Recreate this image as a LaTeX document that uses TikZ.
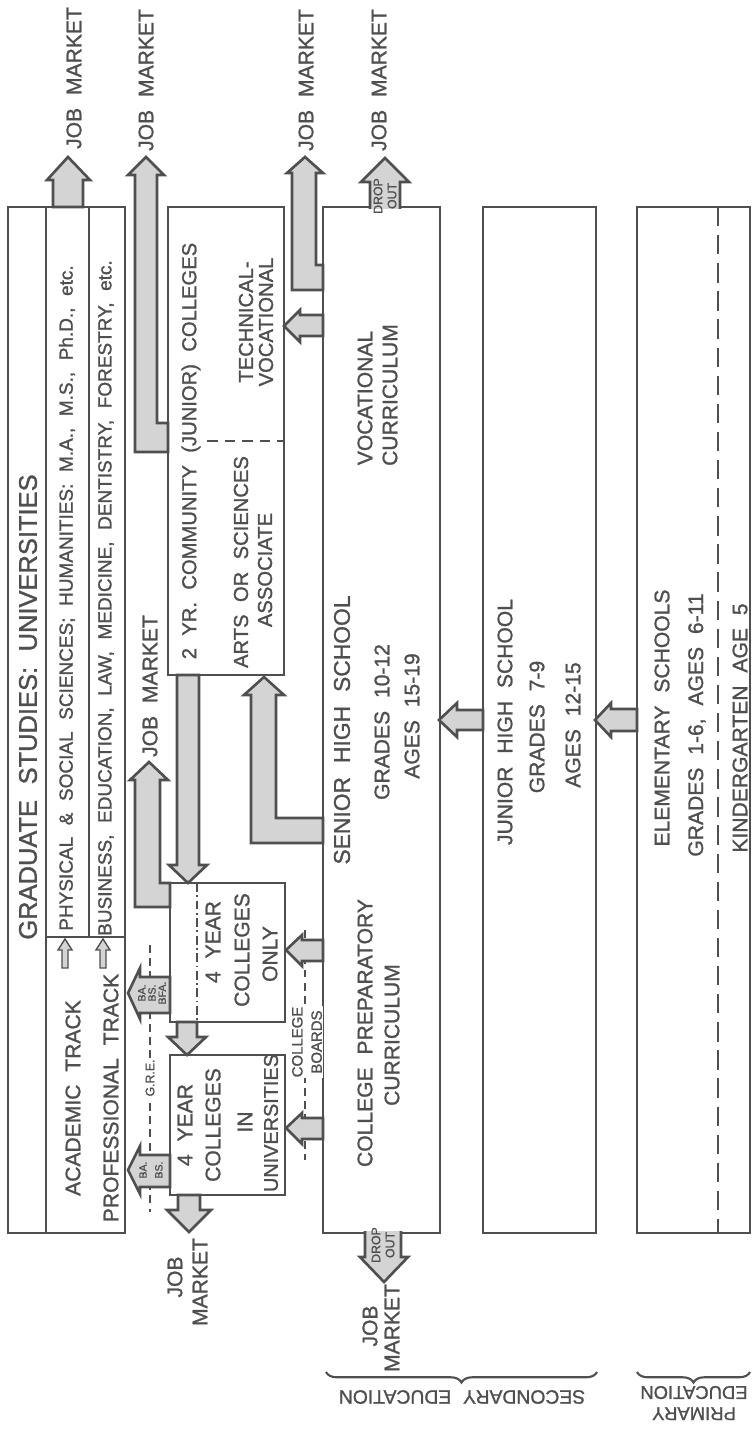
\documentclass[tikz,border=0pt]{standalone}
\usepackage{fontspec}
\setmainfont{Liberation Sans}[WordSpace=2.2,FakeBold=1.2]
\usepackage{tikz}
\usetikzlibrary{decorations.pathreplacing}
\definecolor{EDInk}{HTML}{4F4F4F}
\definecolor{EDShade}{HTML}{D4D4D4}
\newcommand{\txtsz}[1]{\fontsize{#1}{#1}\selectfont}

\begin{document}
\begin{tikzpicture}[x=0.02cm,y=-0.02cm,
  box/.style={draw=EDInk,line width=1.6pt,fill=white},
  rule/.style={draw=EDInk,line width=1.6pt},
  dashrule/.style={draw=EDInk,line width=1.4pt,dash pattern=on 6pt off 4pt},
  testline/.style={draw=EDInk,line width=1pt,dash pattern=on 4.5pt off 3pt},
  blk/.style={draw=EDInk,line width=1.5pt,fill=EDShade},
  lbl/.style={rotate=90,text=EDInk,inner sep=0pt,font=\txtsz{12}},
  tiny/.style={rotate=90,text=EDInk,inner sep=0.6pt,align=center,font=\fontsize{6}{5.8}\selectfont}]
\path[use as bounding box] (0,0) rectangle (756,1429);
% boxes
\draw[box] (8,207) rectangle (125,1233);
\draw[rule] (46,207) -- (46,1233);
\draw[rule] (89,207) -- (89,937);
\draw[rule] (46,937) -- (125,937);
\draw[box] (168,207) rectangle (284,675);
\draw[dashrule] (207,441) -- (284,441);
\draw[box] (170,883) rectangle (285,1022);
\draw[EDInk,line width=1.1pt,dash pattern=on 5pt off 2pt on 1pt off 2pt] (197,883) -- (197,1022);
\draw[box] (170,1055) rectangle (285,1195);
\draw[box] (323,207) rectangle (440,1233);
\draw[box] (483,207) rectangle (596,1233);
\draw[box] (637,207) rectangle (750,1233);
\draw[dashrule,dash pattern=on 11pt off 5pt] (718,207) -- (718,1233);
% test lines
\draw[testline] (150,945) -- (150,1212);
\draw[testline] (305,930) -- (305,1160);
% block arrows
\filldraw[blk] (53,207) -- (53,180) -- (47,180) -- (68,157) -- (90,180) -- (83,180) -- (83,207) -- cycle;
\filldraw[blk] (168,423) -- (157,423) -- (157,175) -- (164,175) -- (146,157) -- (128,175) -- (135,175) -- (135,452) -- (168,452) -- cycle;
\filldraw[blk] (170,883) -- (160,883) -- (160,780) -- (168,780) -- (149,762) -- (130,780) -- (135,780) -- (135,907) -- (170,907) -- cycle;
\filldraw[blk] (177,675) -- (177,865) -- (169,865) -- (188,883) -- (207,865) -- (199,865) -- (199,675) -- cycle;
\filldraw[blk] (177,1022) -- (177,1037) -- (168,1037) -- (187,1055) -- (206,1037) -- (197,1037) -- (197,1022) -- cycle;
\filldraw[blk] (178,1195) -- (178,1210) -- (167,1210) -- (189,1232) -- (211,1210) -- (200,1210) -- (200,1195) -- cycle;
\filldraw[blk] (170,977) -- (140,977) -- (140,968) -- (128,993) -- (140,1019) -- (140,1013) -- (170,1013) -- cycle;
\filldraw[blk] (170,1155) -- (140,1155) -- (140,1146) -- (128,1170) -- (140,1194) -- (140,1187) -- (170,1187) -- cycle;
\filldraw[blk] (323,940) -- (302,940) -- (302,935) -- (286,950) -- (302,966) -- (302,961) -- (323,961) -- cycle;
\filldraw[blk] (323,1118) -- (302,1118) -- (302,1113) -- (286,1128) -- (302,1144) -- (302,1139) -- (323,1139) -- cycle;
\filldraw[blk] (323,818) -- (276,818) -- (276,695) -- (284,695) -- (264,677) -- (244,695) -- (251,695) -- (251,843) -- (323,843) -- cycle;
\filldraw[blk] (323,265) -- (316,265) -- (316,173) -- (323,173) -- (305,157) -- (287,173) -- (292,173) -- (292,290) -- (323,290) -- cycle;
\filldraw[blk] (323,315) -- (300,315) -- (300,310) -- (284,326) -- (300,342) -- (300,336) -- (323,336) -- cycle;
\filldraw[blk] (370,209) -- (370,182) -- (361,182) -- (385,158) -- (409,182) -- (400,182) -- (400,209);
\filldraw[blk] (365,1231) -- (365,1257) -- (360,1257) -- (384,1282) -- (408,1257) -- (401,1257) -- (401,1231);
\filldraw[blk] (483,710) -- (457,710) -- (457,703) -- (439,720) -- (457,737) -- (457,730) -- (483,730) -- cycle;
\filldraw[blk] (637,709) -- (611,709) -- (611,703) -- (595,720) -- (611,737) -- (611,731) -- (637,731) -- cycle;
\filldraw[blk,line width=0.8pt] (62,968) -- (62,950) -- (58,950) -- (65,939) -- (72,950) -- (68,950) -- (68,968) -- cycle;
\filldraw[blk,line width=0.8pt] (100,968) -- (100,950) -- (96,950) -- (103,939) -- (110,950) -- (106,950) -- (106,968) -- cycle;
% braces
\draw[EDInk,line width=1.2pt,decorate,decoration={brace,amplitude=6pt}] (597,1372) -- (326,1372);
\draw[EDInk,line width=1.2pt,decorate,decoration={brace,amplitude=6pt}] (750,1372) -- (637,1372);
% labels
\node[lbl,font=\txtsz{14.5}] (gradTitle) at (28,707) {GRADUATE STUDIES: UNIVERSITIES};
\node[lbl,font=\txtsz{10.8}] (gradAcad) at (67,598) {PHYSICAL \& SOCIAL SCIENCES; HUMANITIES: M.A., M.S., Ph.D., etc.};
\node[lbl,font=\txtsz{10.8}] (gradProf) at (106,598) {BUSINESS, EDUCATION, LAW, MEDICINE, DENTISTRY, FORESTRY, etc.};
\node[lbl] (acadTrack) at (73,1098) {ACADEMIC TRACK};
\node[lbl] (profTrack) at (111,1098) {PROFESSIONAL TRACK};
\node[lbl] (jobGrad) at (74,78) {JOB MARKET};
\node[lbl] (jobComm) at (146,80) {JOB MARKET};
\node[lbl] (jobFour) at (150,686) {JOB MARKET};
\node[lbl] (jobVoc) at (306,80) {JOB MARKET};
\node[lbl] (jobDrop) at (379,80) {JOB MARKET};
\node[lbl,font=\txtsz{11.5}] (commTitle) at (191,451) {2 YR. COMMUNITY (JUNIOR) COLLEGES};
\node[lbl,font=\txtsz{11.5}] (techA) at (246,322) {TECHNICAL-};
\node[lbl,font=\txtsz{11.5}] (techB) at (266,322) {VOCATIONAL};
\node[lbl,font=\txtsz{11.5}] (artsA) at (241,562) {ARTS OR SCIENCES};
\node[lbl,font=\txtsz{11.5}] (artsB) at (265,570) {ASSOCIATE};
\node[lbl] (onlyA) at (213,942) {4 YEAR};
\node[lbl] (onlyB) at (242,950) {COLLEGES};
\node[lbl] (onlyC) at (270,954) {ONLY};
\node[lbl] (univA) at (185,1125) {4 YEAR};
\node[lbl] (univB) at (213,1125) {COLLEGES};
\node[lbl] (univC) at (245,1122) {IN};
\node[lbl,font=\txtsz{11.3}] (univD) at (271,1123) {UNIVERSITIES};
\node[lbl,font=\txtsz{13}] (seniorA) at (342,730) {SENIOR HIGH SCHOOL};
\node[lbl] (seniorB) at (382,722) {GRADES 10-12};
\node[lbl] (seniorC) at (412,716) {AGES 15-19};
\node[lbl] (vocA) at (365,398) {VOCATIONAL};
\node[lbl] (vocB) at (390,395) {CURRICULUM};
\node[lbl] (prepA) at (365,1033) {COLLEGE PREPARATORY};
\node[lbl] (prepB) at (392,1035) {CURRICULUM};
\node[lbl] (juniorA) at (505,722) {JUNIOR HIGH SCHOOL};
\node[lbl] (juniorB) at (537,727) {GRADES 7-9};
\node[lbl] (juniorC) at (573,725) {AGES 12-15};
\node[lbl] (elemA) at (662,718) {ELEMENTARY SCHOOLS};
\node[lbl] (elemB) at (697,725) {GRADES 1-6, AGES 6-11};
\node[lbl] (elemC) at (740,728) {KINDERGARTEN AGE 5};
\node[lbl] (jobBotA) at (370,1326) {JOB};
\node[lbl] (jobBotB) at (392,1328) {MARKET};
\node[lbl] (jobUnivA) at (175,1277) {JOB};
\node[lbl] (jobUnivB) at (200,1282) {MARKET};
\node[tiny,font=\fontsize{7}{8}\selectfont] (dropTop) at (385,196) {DROP\\OUT};
\node[tiny,font=\fontsize{7}{8}\selectfont] (dropBot) at (383,1245) {DROP\\OUT};
\node[tiny] (baBfa) at (152,993) {BA.\\BS.\\BFA.};
\node[tiny,font=\fontsize{6}{9}\selectfont] (baBs) at (151,1170) {BA.\\BS.};
\node[tiny,fill=white,font=\fontsize{7}{8}\selectfont] (gre) at (150,1078) {G.R.E.};
\node[tiny,fill=white,font=\fontsize{8.5}{11}\selectfont] (boards) at (307,1042) {COLLEGE\\BOARDS};
\node[rotate=180,text=EDInk,font=\txtsz{11}] (secLabel) at (462,1397) {SECONDARY EDUCATION};
\node[rotate=180,text=EDInk,align=center,font=\fontsize{10.5}{12}\selectfont] (priLabel) at (694,1403) {PRIMARY\\EDUCATION};
\end{tikzpicture}
\end{document}
